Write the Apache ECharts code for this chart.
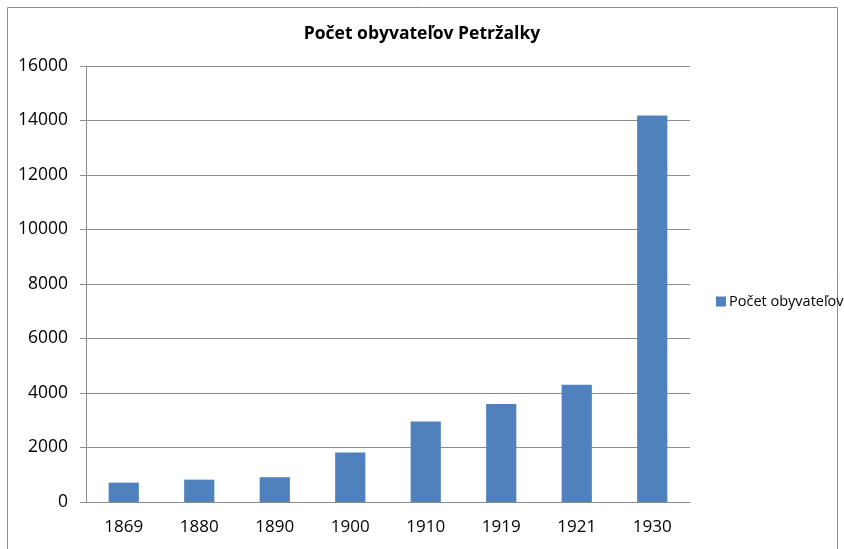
<!DOCTYPE html>
<html lang="sk">
<head>
    <meta charset="utf-8">
    <title>Počet obyvateľov Petržalky</title>
    <script src="https://cdn.jsdelivr.net/npm/echarts@6/dist/echarts.min.js"></script>
    <style>
        html, body { margin: 0; padding: 0; background: #fff; }
        #chart { width: 844px; height: 549px; }
    </style>
</head>
<body>
<div id="chart"></div>
<script type="text/javascript">
    // roky a počty obyvateľov
    var years = ['1869', '1880', '1890', '1900', '1910', '1919', '1921', '1930'];
    var population = [710, 820, 910, 1815, 2955, 3600, 4300, 14180];
    var seriesName = 'Počet obyvateľov';

    var myChart = echarts.init(document.getElementById('chart'));
    var option = {
        animation: false,
        title: {
            text: 'Počet obyvateľov Petržalky',
            left: 'center',
            top: 20,
            textStyle: {
                fontFamily: 'Open Sans',
                fontSize: 17.5,
                fontWeight: 'bold',
                color: '#000'
            }
        },
        graphic: [{
            type: 'rect',
            shape: {x: 7.5, y: 7.5, width: 830, height: 560},
            style: {fill: 'none', stroke: '#8c8c8c', lineWidth: 1}
        }],
        legend: {
            orient: 'vertical',
            left: 711,
            top: 289,
            icon: 'rect',
            itemWidth: 10,
            itemHeight: 10,
            itemGap: 4,
            textStyle: {fontFamily: 'Open Sans', fontSize: 14.5, color: '#000', padding: [0, 0, 0, -2]},
            data: [seriesName]
        },
        grid: {left: 86, right: 154, top: 66, bottom: 47},
        xAxis: {
            type: 'category',
            data: years,
            axisLine: {lineStyle: {color: '#8c8c8c'}},
            axisTick: {show: false},
            axisLabel: {fontFamily: 'Open Sans', fontSize: 17, color: '#000', margin: 17}
        },
        yAxis: {
            type: 'value',
            min: 0,
            max: 16000,
            interval: 2000,
            axisLine: {show: true, lineStyle: {color: '#8c8c8c'}},
            axisTick: {show: true, length: 6, lineStyle: {color: '#8c8c8c'}},
            axisLabel: {
                fontFamily: 'Open Sans', fontSize: 17.5, color: '#000', margin: 18,
                formatter: function (v) { return String(v); }
            },
            splitLine: {lineStyle: {color: '#8c8c8c'}}
        },
        series: [{
            name: seriesName,
            type: 'bar',
            data: population,
            barWidth: '40%',
            itemStyle: {color: '#4f81bd'}
        }]
    };
    myChart.setOption(option);
</script>
</body>
</html>
